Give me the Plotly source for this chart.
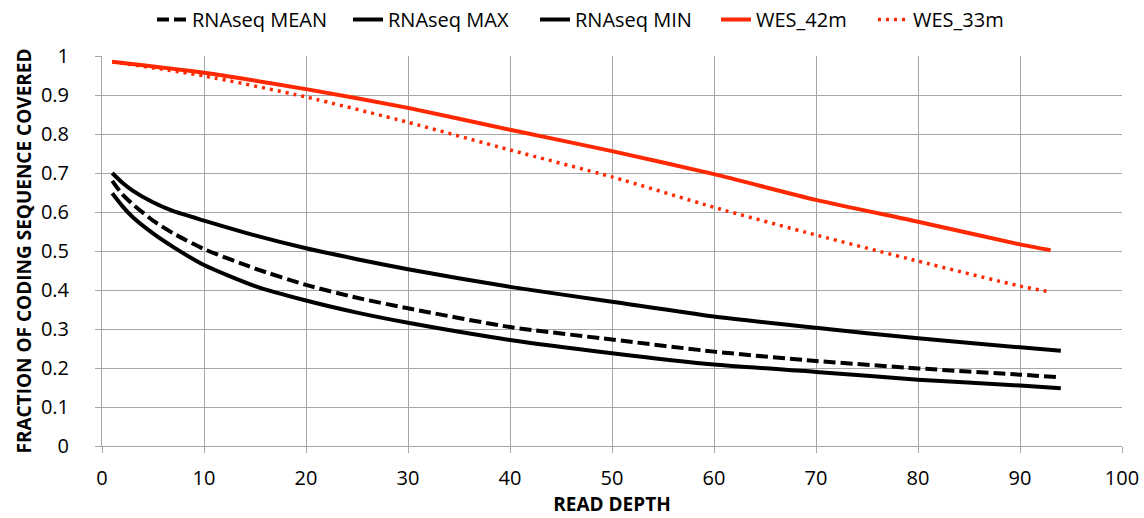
import plotly.graph_objects as go

# Read depth values (x) for each series
x_rna = [1, 2, 3, 5, 7, 10, 15, 20, 25, 30, 40, 50, 60, 70, 80, 90, 94]
rna_mean = [0.680, 0.645, 0.620, 0.578, 0.545, 0.505, 0.455, 0.413, 0.380, 0.353, 0.305, 0.273, 0.242, 0.218, 0.199, 0.183, 0.176]
rna_max = [0.700, 0.675, 0.655, 0.625, 0.602, 0.578, 0.540, 0.507, 0.479, 0.453, 0.408, 0.370, 0.332, 0.303, 0.276, 0.253, 0.244]
rna_min = [0.648, 0.615, 0.587, 0.545, 0.510, 0.464, 0.410, 0.373, 0.342, 0.316, 0.272, 0.238, 0.209, 0.190, 0.170, 0.155, 0.148]

x_wes = [1, 10, 20, 30, 40, 50, 60, 70, 80, 90, 93]
wes_42m = [0.985, 0.957, 0.915, 0.867, 0.811, 0.756, 0.697, 0.631, 0.575, 0.517, 0.502]
wes_33m = [0.985, 0.949, 0.895, 0.830, 0.759, 0.690, 0.612, 0.541, 0.474, 0.410, 0.395]

x_ticks = list(range(0, 101, 10))
y_ticks = [round(i * 0.1, 1) for i in range(11)]

RED = "#FF2800"
GRID = "#A6A6A6"
FONT = "Open Sans"
W, H = 1144, 518

series = [
    ("RNAseq MEAN", x_rna, rna_mean, dict(color="black", width=4, dash="12px,5px")),
    ("RNAseq MAX", x_rna, rna_max, dict(color="black", width=4)),
    ("RNAseq MIN", x_rna, rna_min, dict(color="black", width=4)),
    ("WES_42m", x_wes, wes_42m, dict(color=RED, width=4)),
    ("WES_33m", x_wes, wes_33m, dict(color=RED, width=3.5, dash="3px,5px")),
]
# left pixel of each legend entry's symbol
legend_px = [155, 351, 538, 719, 876]

fig = go.Figure()
legends = {}
for i, ((name, xs, ys, ln), px) in enumerate(zip(series, legend_px)):
    lname = "legend" if i == 0 else f"legend{i+1}"
    fig.add_trace(go.Scatter(x=xs, y=ys, name=name, mode="lines", legend=lname,
                             line=dict(shape="spline", smoothing=0.6, **ln)))
    legends[lname] = dict(orientation="h", xref="container", x=(px - 3) / W, xanchor="left",
                          yref="container", y=1.0, yanchor="top",
                          itemwidth=30, font=dict(family=FONT, size=20, color="black"),
                          bgcolor="rgba(0,0,0,0)")

fig.update_layout(
    width=W, height=H,
    margin=dict(l=102, r=22, t=56, b=72, autoexpand=False),
    paper_bgcolor="white", plot_bgcolor="white",
    font=dict(family=FONT, size=20, color="black"),
    showlegend=True,
    **legends,
)
fig.update_xaxes(
    range=[0, 100], tickvals=x_ticks, ticktext=[str(v) for v in x_ticks],
    showgrid=True, gridcolor=GRID, gridwidth=1,
    showline=True, linecolor=GRID, linewidth=1,
    ticks="outside", ticklen=6, tickcolor=GRID, ticklabelstandoff=8,
    zeroline=False, automargin=False,
    title=dict(text="<b>READ DEPTH</b>", font=dict(family=FONT, size=19), standoff=6),
)
fig.update_yaxes(
    range=[0, 1], tickvals=y_ticks, ticktext=[("%g" % v) for v in y_ticks],
    showgrid=True, gridcolor=GRID, gridwidth=1,
    showline=True, linecolor=GRID, linewidth=1,
    ticks="outside", ticklen=6, tickcolor=GRID, ticklabelstandoff=22,
    zeroline=False, automargin=False,
    title=dict(text="<b>FRACTION OF CODING SEQUENCE COVERED</b>", font=dict(family=FONT, size=19), standoff=4),
)

fig.write_html("out.html", config={"displayModeBar": False},
               post_script="document.body.style.margin='0';")
